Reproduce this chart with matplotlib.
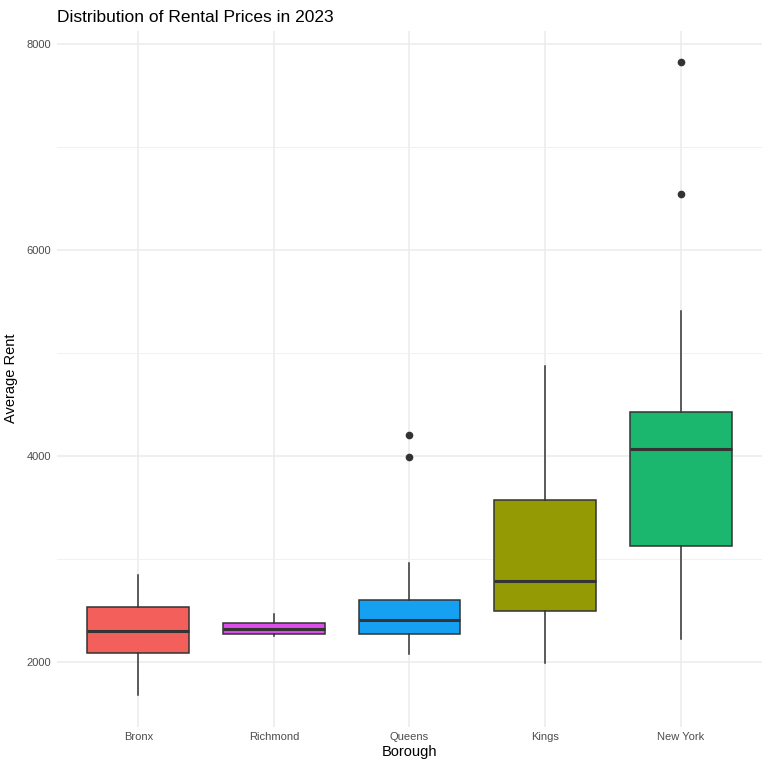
import matplotlib.pyplot as plt
from matplotlib.ticker import MultipleLocator

plt.rcParams['font.family'] = ['Liberation Sans', 'DejaVu Sans']

# boroughs in plotted order (sorted by median rent)
boroughs = ['Bronx', 'Richmond', 'Queens', 'Kings', 'New York']
whisker_low = [1680, 2250, 2080, 1990, 2225]
q1 = [2088, 2272, 2272, 2496, 3129]
median = [2302, 2321, 2409, 2788, 4063]
q3 = [2535, 2379, 2603, 3576, 4423]
whisker_high = [2847, 2467, 2963, 4870, 5406]
outliers = [[], [], [4204, 3990], [], [6545, 7820]]
colors = ['#F35F5B', '#D94FE8', '#16A0F1', '#949A04', '#1BB76E']

stats = []
for i, name in enumerate(boroughs):
    stats.append({'label': name, 'whislo': whisker_low[i], 'q1': q1[i],
                  'med': median[i], 'q3': q3[i], 'whishi': whisker_high[i],
                  'fliers': outliers[i]})

fig = plt.figure(figsize=(7.68, 7.68), dpi=100)
ax = fig.add_axes([0.0742, 0.054, 0.918, 0.906])

bp = ax.bxp(stats, positions=range(1, 6), widths=0.75, patch_artist=True,
            showcaps=False,
            boxprops=dict(edgecolor='#333333', linewidth=1.1),
            medianprops=dict(color='#333333', linewidth=2.2),
            whiskerprops=dict(color='#333333', linewidth=1.1),
            flierprops=dict(marker='o', markerfacecolor='#333333',
                            markeredgecolor='#333333', markersize=4.5))
for patch, c in zip(bp['boxes'], colors):
    patch.set_facecolor(c)
    patch.set_zorder(2)

ax.set_xlim(0.4, 5.6)
ax.set_ylim(1372, 8127)
ax.yaxis.set_major_locator(MultipleLocator(2000))
ax.yaxis.set_minor_locator(MultipleLocator(1000))
ax.grid(True, which='major', color='#EBEBEB', linewidth=1.1, zorder=0)
ax.grid(True, which='minor', axis='y', color='#F1F1F1', linewidth=0.7, zorder=0)
ax.set_axisbelow(True)
for s in ax.spines.values():
    s.set_visible(False)
ax.tick_params(which='both', length=0, labelsize=8, labelcolor='#4D4D4D', pad=4)

ax.set_xlabel('Borough', fontsize=10.5, labelpad=2)
ax.set_ylabel('Average Rent', fontsize=10.5, labelpad=6)
ax.set_title('Distribution of Rental Prices in 2023', fontsize=12.5, loc='left',
             pad=6)
ax.title.set_position((-0.012, 1.0))

fig.savefig('out.png')
